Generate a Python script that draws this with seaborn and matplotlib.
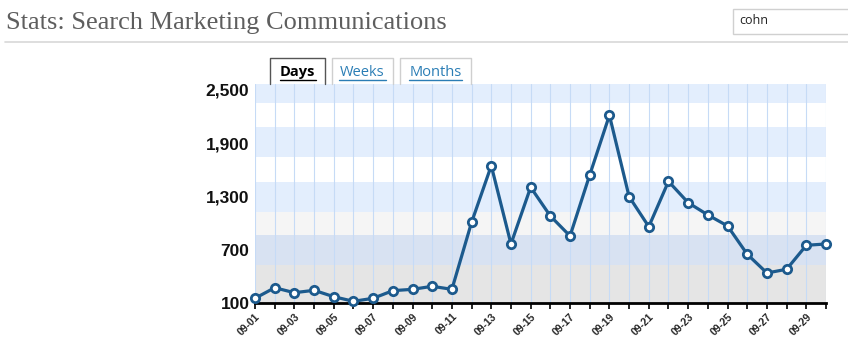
import numpy as np
import pandas as pd
import matplotlib
matplotlib.use("Agg")
import matplotlib.pyplot as plt
from matplotlib.patches import Rectangle
from matplotlib.ticker import FuncFormatter
import seaborn as sns

# data
days = ["09-%02d" % d for d in range(1, 31)]
visits = [153, 272, 216, 243, 171, 119, 153, 239, 254, 288,
          254, 1009, 1647, 765, 1404, 1080, 855, 1542, 2215, 1298,
          960, 1470, 1230, 1092, 968, 649, 438, 480, 750, 765]
y_ticks = [100, 700, 1300, 1900, 2500]
tabs = ["Days", "Weeks", "Months"]
title = "Stats: Search Marketing Communications"
search_text = "cohn"

df = pd.DataFrame({"day": np.arange(len(days)), "visits": visits})

sns.set_theme(style="white")
plt.rcParams['font.family'] = ['Liberation Sans', 'DejaVu Sans']

fig = plt.figure(figsize=(8.48, 3.64), dpi=100)
W, H = 848, 364

def fx(px):
    return px / W

def fy(py):
    return 1 - py / H

# header
fig.text(fx(6), fy(29), title, family="Liberation Serif", fontsize=19,
         color="#5e5e5e", va="baseline", ha="left")
fig.add_artist(plt.Line2D([fx(5), 1], [fy(42), fy(42)], color="#d8d8d8", lw=1.2,
                          transform=fig.transFigure))
fig.add_artist(Rectangle((fx(733), fy(34)), fx(130), 25 / H, transform=fig.transFigure,
                         facecolor="white", edgecolor="#d0d0d0", lw=1))
fig.text(fx(739), fy(21), search_text, fontsize=9, color="#222222", va="center",
         family="Open Sans")

# tabs
tab_x = [(270, 325), (332, 393), (400, 471)]
for i, (name, (x0, x1)) in enumerate(zip(tabs, tab_x)):
    fig.add_artist(plt.Line2D([fx(x0), fx(x0), fx(x1), fx(x1)],
                              [fy(84), fy(58), fy(58), fy(84)],
                              color="#555555" if i == 0 else "#cfcfcf", lw=1,
                              transform=fig.transFigure))
    fig.text(fx((x0 + x1) / 2), fy(72), name, ha="center", va="center", fontsize=10.5,
             fontweight="bold" if i == 0 else "normal",
             color="black" if i == 0 else "#2a7db5", family="Open Sans")
    tw = {0: 36, 1: 47, 2: 53}[i]
    fig.add_artist(plt.Line2D([fx((x0 + x1) / 2 - tw / 2), fx((x0 + x1) / 2 + tw / 2)],
                              [fy(79.5), fy(79.5)], lw=1,
                              color="black" if i == 0 else "#2a7db5",
                              transform=fig.transFigure))

# main chart
ax = fig.add_axes([fx(255), fy(303), fx(826) - fx(255), (303 - 84) / H])
ax.set_xlim(0, len(days) - 1)
ax.set_ylim(100, 2567)

band_edges = [2567, 2351, 2081, 1743, 1462, 1124, 865, 528, 100]
band_colors = ["#e3eefd", "#ffffff", "#e3eefd", "#ffffff", "#e3eefd",
               "#f5f5f5", "#d8e2f2", "#e5e5e5"]
for top, bot, c in zip(band_edges[:-1], band_edges[1:], band_colors):
    ax.axhspan(bot, top, color=c, lw=0, zorder=0)

for i in range(len(days)):
    ax.axvline(i, color="#c6dbf6", lw=0.8, zorder=1)

sns.lineplot(data=df, x="day", y="visits", ax=ax, color="#1c5a8d", lw=2.3,
             marker="o", markersize=6, markerfacecolor="white",
             markeredgecolor="#1c5a8d", markeredgewidth=2, zorder=3, clip_on=False)

for s in ["top", "right", "left"]:
    ax.spines[s].set_visible(False)
ax.spines["bottom"].set_color("black")
ax.spines["bottom"].set_linewidth(2)
ax.spines["bottom"].set_zorder(2)

ax.set_yticks(y_ticks)
ax.yaxis.set_major_formatter(FuncFormatter(lambda v, p: f"{int(v):,}"))
ax.tick_params(axis="y", length=0, pad=4, labelsize=12.5)
for lab in ax.get_yticklabels():
    lab.set_fontweight("bold")
    lab.set_color("#111111")

ax.set_xticks(range(len(days)))
ax.set_xticklabels([d if i % 2 == 0 else "" for i, d in enumerate(days)],
                   rotation=45, ha="right", rotation_mode="anchor", fontsize=7.5,
                   fontweight="bold")
ax.tick_params(axis="x", length=4, width=1.2, color="black", bottom=True,
               direction="out", pad=2)
ax.set_xlabel("")
ax.set_ylabel("")

fig.savefig("out.png", dpi=100)
